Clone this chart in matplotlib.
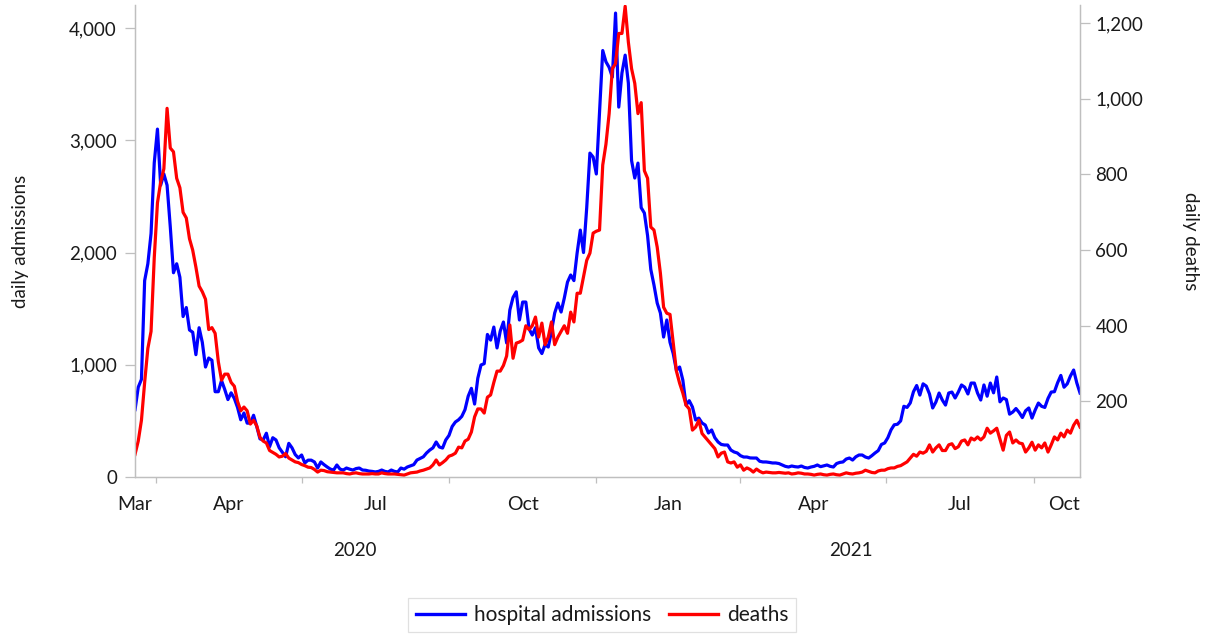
import matplotlib
matplotlib.use("Agg")
import matplotlib.pyplot as plt
import pandas as pd

plt.rcParams['font.family'] = ['Lato', 'DejaVu Sans']

# ==========================================
# values, one every 2 days from 19 Mar 2020
# ==========================================
start_date = '2020-03-19'
step = '2D'

admissions = [
    600, 800, 870, 1750, 1900, 2170, 2800, 3100, 2600, 2700,
    2600, 2230, 1820, 1900, 1780, 1430, 1510, 1310, 1290, 1090,
    1330, 1200, 980, 1060, 1040, 760, 760, 860, 780, 690,
    750, 700, 620, 510, 570, 480, 480, 550, 450, 340,
    330, 390, 270, 350, 330, 260, 220, 180, 300, 260,
    200, 170, 196, 125, 150, 150, 134, 80, 134, 110,
    89, 70, 62, 107, 70, 62, 80, 70, 62, 75,
    80, 62, 60, 53, 50, 45, 50, 62, 50, 45,
    62, 50, 45, 80, 70, 89, 100, 110, 151, 165,
    180, 214, 240, 260, 312, 267, 258, 330, 370, 450,
    490, 510, 540, 600, 720, 790, 650, 880, 998, 1010,
    1270, 1220, 1336, 1150, 1300, 1381, 1194, 1488, 1600, 1650,
    1399, 1559, 1559, 1320, 1265, 1330, 1150, 1100, 1180, 1158,
    1300, 1461, 1550, 1470, 1594, 1737, 1800, 1750, 1995, 2200,
    2000, 2400, 2886, 2851, 2700, 3243, 3800, 3700, 3650, 3563,
    4134, 3296, 3600, 3759, 3510, 2820, 2664, 2797, 2400, 2352,
    2150, 1850, 1710, 1550, 1461, 1247, 1399, 1200, 1100, 950,
    980, 864, 641, 680, 624, 508, 525, 481, 463, 392,
    419, 350, 312, 290, 285, 285, 240, 223, 214, 190,
    178, 178, 170, 169, 169, 140, 134, 134, 130, 125,
    125, 120, 107, 95, 89, 98, 92, 89, 98, 85,
    80, 89, 95, 107, 92, 100, 107, 95, 89, 120,
    130, 134, 160, 169, 151, 180, 196, 196, 178, 169,
    190, 214, 235, 290, 303, 350, 420, 465, 470, 500,
    630, 620, 660, 760, 815, 730, 830, 810, 740, 615,
    668, 748, 686, 641, 748, 757, 704, 757, 820, 800,
    740, 837, 837, 748, 686, 820, 720, 837, 750, 891,
    670, 704, 690, 560, 579, 610, 575, 530, 590, 615,
    525, 597, 659, 630, 620, 700, 757, 760, 840, 905,
    800, 830, 900, 953, 837, 748,
]

deaths = [
    60, 95, 150, 250, 340, 385, 580, 725, 780, 815,
    975, 870, 860, 790, 765, 700, 685, 630, 600, 555,
    505, 490, 470, 390, 395, 380, 305, 256, 272, 272,
    250, 240, 200, 175, 185, 175, 140, 150, 135, 105,
    95, 90, 70, 65, 60, 53, 55, 62, 50, 45,
    40, 38, 33, 30, 26, 25, 20, 13, 18, 17,
    14, 13, 12, 11, 11, 11, 9, 8, 10, 11,
    9, 8, 8, 8, 9, 8, 8, 11, 9, 8,
    8, 8, 7, 6, 5, 8, 11, 12, 13, 16,
    18, 21, 24, 32, 45, 32, 38, 45, 55, 58,
    63, 79, 77, 95, 100, 119, 159, 180, 180, 169,
    211, 217, 250, 280, 280, 295, 320, 402, 314, 354,
    357, 362, 400, 390, 400, 423, 370, 407, 350, 370,
    410, 350, 370, 385, 400, 380, 436, 410, 486, 486,
    530, 573, 592, 645, 650, 653, 825, 880, 961, 1080,
    1093, 1173, 1173, 1245, 1150, 1080, 1041, 961, 990, 810,
    790, 661, 653, 608, 539, 449, 433, 430, 354, 280,
    248, 222, 190, 180, 124, 132, 150, 115, 105, 95,
    85, 75, 53, 63, 66, 40, 37, 40, 26, 32,
    18, 24, 20, 13, 21, 15, 11, 13, 12, 11,
    11, 12, 11, 10, 11, 8, 9, 11, 10, 8,
    8, 7, 5, 7, 8, 6, 5, 7, 8, 6,
    5, 8, 11, 9, 8, 10, 11, 13, 18, 15,
    12, 11, 16, 18, 18, 22, 24, 24, 28, 30,
    35, 40, 50, 60, 55, 66, 63, 68, 85, 66,
    77, 85, 70, 70, 85, 88, 75, 80, 95, 98,
    85, 103, 98, 106, 98, 106, 129, 116, 122, 129,
    100, 71, 110, 119, 90, 98, 90, 88, 66, 77,
    92, 71, 85, 77, 90, 66, 85, 106, 98, 116,
    106, 124, 116, 137, 150, 132,
]

quarter_starts = ['2020-04-01', '2020-07-01', '2020-10-01', '2021-01-01',
                  '2021-04-01', '2021-07-01', '2021-10-01']
month_labels = ['Mar', 'Apr', 'Jul', 'Oct', 'Jan', 'Apr', 'Jul', 'Oct']
year_labels = ['2020', '2021']

left_ticks = [0, 1000, 2000, 3000, 4000]
right_ticks = [200, 400, 600, 800, 1000, 1200]

# ==========================================
grey = '#bfbfbf'
txt = '#1a1a1a'
fs = 13.5

adm_dates = pd.date_range(start_date, periods=len(admissions), freq=step)
dth_dates = pd.date_range(start_date, periods=len(deaths), freq=step)
xmin, xmax = adm_dates[0], adm_dates[-1]

fig = plt.figure(figsize=(12.1, 6.36), dpi=100)
ax = fig.add_axes([0.1116, 0.25, 0.7810, 0.742])
ax2 = ax.twinx()

l1, = ax.plot(adm_dates, admissions, color='#0000ff', lw=2.3, label='hospital admissions')
l2, = ax2.plot(dth_dates, deaths, color='#ff0000', lw=2.3, label='deaths')

ax.set_xlim(xmin, xmax)
ax.set_ylim(0, 4205)
ax2.set_ylim(0, 1248)

for a in (ax, ax2):
    a.spines['top'].set_visible(False)
    for s in ('left', 'right', 'bottom'):
        a.spines[s].set_color(grey)
        a.spines[s].set_linewidth(0.9)

ax.set_yticks(left_ticks)
ax.set_yticklabels([f'{v:,}' for v in left_ticks])
ax.tick_params(axis='y', direction='out', length=7, width=0.9, color=grey,
               labelsize=fs, labelcolor=txt, pad=6)
ax2.set_yticks(right_ticks)
ax2.set_yticklabels([f'{v:,}' for v in right_ticks])
ax2.tick_params(axis='y', direction='out', length=7, width=0.9, color=grey,
                labelsize=fs, labelcolor=txt, pad=4)

# x axis: tick marks at quarter starts, month names in the middle of each quarter
qs = [pd.Timestamp(q) for q in quarter_starts]
ax.set_xticks(qs)
ax.set_xticklabels([])
ax.tick_params(axis='x', direction='out', length=4.5, width=0.9, color=grey)

bounds = [xmin] + qs + [xmax]
trans = ax.get_xaxis_transform()
for i, lab in enumerate(month_labels):
    if i == 0:
        pos, ha = xmin, 'center'
    elif i == len(month_labels) - 1:
        pos, ha = xmax, 'right'
    else:
        pos, ha = bounds[i] + (bounds[i + 1] - bounds[i]) / 2, 'center'
    ax.text(pos, -0.059, lab, transform=trans, ha=ha, va='center',
            fontsize=14, color=txt)

year_pos = [pd.Timestamp('2020-08-03'), pd.Timestamp('2021-06-09')]
for pos, lab in zip(year_pos, year_labels):
    ax.text(pos, -0.155, lab, transform=trans, ha='center', va='center',
            fontsize=fs, color=txt)

fig.text(0.017, 0.621, 'daily admissions', rotation=90, ha='center', va='center',
         fontsize=fs, color=txt)
fig.text(0.9835, 0.621, 'daily deaths', rotation=270, ha='center', va='center',
         fontsize=fs, color=txt)

leg = fig.legend([l1, l2], ['hospital admissions', 'deaths'], loc='center',
                 bbox_to_anchor=(0.4975, 0.033), ncol=2, fontsize=15,
                 frameon=True, fancybox=False, edgecolor='#d9d9d9',
                 handlelength=2.35, handletextpad=0.43, columnspacing=0.87,
                 borderpad=0.35, borderaxespad=0)
leg.get_frame().set_linewidth(0.9)
for t in leg.get_texts():
    t.set_color(txt)
for h in leg.legend_handles:
    h.set_linewidth(2.4)

fig.savefig('out.png', dpi=100)
